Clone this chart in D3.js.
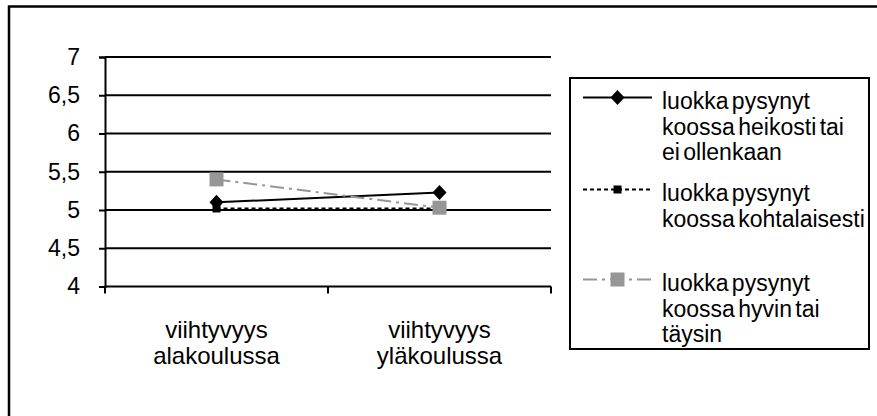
<!DOCTYPE html>
<html><head><meta charset="utf-8">
<script src="https://cdn.jsdelivr.net/npm/d3@7"></script>
<style>
html,body{margin:0;padding:0;background:#fff;}
text{font-family:"Liberation Sans",Arial,sans-serif;fill:#000;}
</style></head>
<body>
<svg id="chart" width="877" height="416"></svg>
<script>
const categories = ["viihtyvyys alakoulussa", "viihtyvyys yläkoulussa"];
const seriesNames = [
  ["luokka pysynyt", "koossa heikosti tai", "ei ollenkaan"],
  ["luokka pysynyt", "koossa kohtalaisesti"],
  ["luokka pysynyt", "koossa hyvin tai", "täysin"]
];
const heikosti = [5.10, 5.23];
const kohtalaisesti = [5.02, 5.02];
const hyvin = [5.40, 5.03];
const yTicks = [4, 4.5, 5, 5.5, 6, 6.5, 7];

const series = [
  {name: seriesNames[0], values: heikosti, color: "#000", dash: null, marker: "diamond"},
  {name: seriesNames[1], values: kohtalaisesti, color: "#000", dash: "4,3", marker: "smallsquare"},
  {name: seriesNames[2], values: hyvin, color: "#969696", dash: "14,5,3,5", marker: "square"}
];

const svg = d3.select("#chart");

// outer frame (cropped)
svg.append("rect").attr("x", 9).attr("y", 6.5).attr("width", 900).attr("height", 500)
  .attr("fill", "none").attr("stroke", "#000").attr("stroke-width", 2.5);

const x = d3.scaleBand().domain(categories).range([105, 551]);
const y = d3.scaleLinear().domain([4, 7]).range([286.5, 57]);
const cx = c => x(c) + x.bandwidth() / 2;

// gridlines
svg.append("g").selectAll("line").data(yTicks).join("line")
  .attr("x1", 105).attr("x2", 551)
  .attr("y1", d => y(d)).attr("y2", d => y(d))
  .attr("stroke", "#000").attr("stroke-width", 2);

// y axis
const yAxis = d3.axisLeft(y).tickValues(yTicks).tickSize(6).tickPadding(19)
  .tickFormat(d => String(d).replace(".", ","));
const gy = svg.append("g").attr("transform", "translate(105,0)").call(yAxis);
gy.select(".domain").attr("stroke", "#000").attr("stroke-width", 2);
gy.selectAll(".tick line").attr("stroke", "#000").attr("stroke-width", 2);
gy.selectAll(".tick text").attr("font-size", 23).attr("font-family", "Liberation Sans, Arial, sans-serif").attr("fill", "#000");

// x axis ticks at band boundaries
const boundaries = categories.map(c => x(c)).concat([x.range()[1]]);
svg.append("g").selectAll("line").data(boundaries).join("line")
  .attr("x1", d => d).attr("x2", d => d)
  .attr("y1", y(4)).attr("y2", y(4) + 7)
  .attr("stroke", "#000").attr("stroke-width", 2);

// category labels
const catG = svg.append("g");
categories.forEach(c => {
  const t = catG.append("text").attr("text-anchor", "middle").attr("font-size", 24);
  c.split(" ").forEach((w, i) => {
    t.append("tspan").attr("x", cx(c)).attr("y", 338 + i * 26).text(w);
  });
});

// markers
function drawMarker(g, type, px, py, color) {
  if (type === "diamond") {
    g.append("path").attr("d", `M${px},${py-7.5}L${px+7},${py}L${px},${py+7.5}L${px-7},${py}Z`).attr("fill", color);
  } else if (type === "square") {
    g.append("rect").attr("x", px - 7).attr("y", py - 7).attr("width", 14).attr("height", 14).attr("fill", color);
  } else {
    g.append("rect").attr("x", px - 4).attr("y", py - 4).attr("width", 8).attr("height", 8).attr("fill", color);
  }
}

// lines
const line = d3.line().x((d, i) => cx(categories[i])).y(d => y(d));
series.forEach(s => {
  const g = svg.append("g");
  g.append("path").attr("d", line(s.values)).attr("fill", "none")
    .attr("stroke", s.color).attr("stroke-width", 2)
    .attr("stroke-dasharray", s.dash);
  s.values.forEach((v, i) => drawMarker(g, s.marker, cx(categories[i]), y(v), s.color));
});

// legend
const lg = svg.append("g");
lg.append("rect").attr("x", 570).attr("y", 78).attr("width", 299).attr("height", 271)
  .attr("fill", "#fff").attr("stroke", "#000").attr("stroke-width", 2);
const legendTop = [109, 201, 291];
series.forEach((s, k) => {
  const base = legendTop[k];
  const ly = base - 11.5;
  lg.append("line").attr("x1", 583).attr("x2", 652).attr("y1", ly).attr("y2", ly)
    .attr("stroke", s.color).attr("stroke-width", 2).attr("stroke-dasharray", s.dash);
  drawMarker(lg, s.marker, 617.5, ly, s.color);
  const t = lg.append("text").attr("font-size", 23).attr("word-spacing", -3);
  s.name.forEach((ln, i) => {
    t.append("tspan").attr("x", 662).attr("y", base + i * 25.5).text(ln);
  });
});
</script>
</body></html>
